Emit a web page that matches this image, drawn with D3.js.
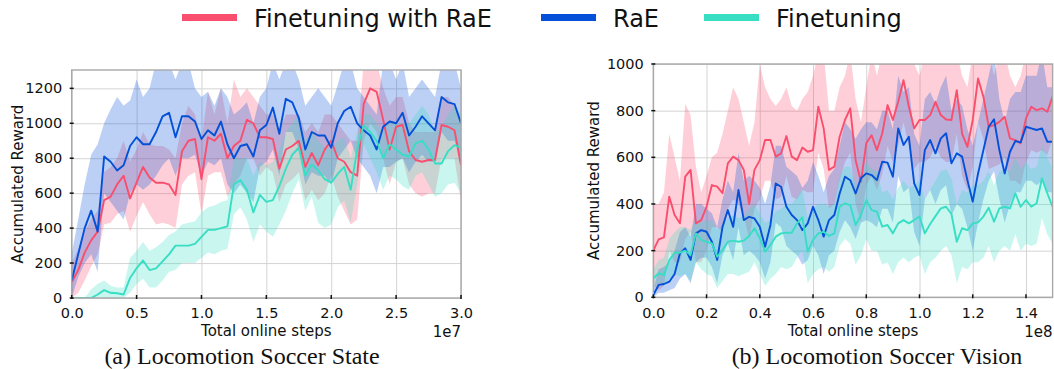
<!DOCTYPE html>
<html><head><meta charset="utf-8">
<script src="https://cdn.jsdelivr.net/npm/d3@7"></script>
<style>body{margin:0;background:#fff}svg{display:block}</style>
</head><body>
<svg id="c" width="1054" height="369"></svg>
<script>
// ---------- DATA ----------
const seriesNames = ["Finetuning with RaE", "RaE", "Finetuning"];
const seriesColors = ["#FA4E6E", "#0450D8", "#37DEC4"];

// (a) Locomotion Soccer State  -- steps in units of 1e6
const leftSteps = [0,0.5,1,1.5,2,2.5,3,3.5,4,4.5,5,5.5,6,6.5,7,7.5,8,8.5,9,9.5,10,10.5,11,11.5,12,12.5,13,13.5,14,14.5,15,15.5,16,16.5,17,17.5,18,18.5,19,19.5,20,20.5,21,21.5,22,22.5,23,23.5,24,24.5,25,25.5,26,26.5,27,27.5,28,28.5,29,29.5,30];
const leftFtRaE = [90,160,260,330,380,560,580,650,700,570,660,750,690,660,660,650,590,840,900,910,680,920,900,940,800,870,900,1020,1000,920,920,910,740,850,870,900,750,830,760,850,900,800,780,720,700,1110,1200,1180,1020,850,980,990,840,790,780,790,790,990,980,960,760];
const leftFtRaEHi = [200,280,380,450,500,720,750,800,900,780,850,950,880,870,870,850,800,1000,1100,1050,900,1180,1050,1200,1000,1250,1150,1200,1150,1100,1050,1050,950,1050,1050,1050,950,1000,950,1050,1050,1000,950,900,900,1350,1350,1350,1200,1100,1150,1150,1000,950,950,950,950,1150,1150,1100,1000];
const leftFtRaELo = [0,30,100,180,250,420,430,480,500,380,470,550,480,420,430,420,400,650,700,720,480,700,720,720,580,650,700,800,800,700,750,720,550,650,680,720,560,620,560,600,700,580,500,420,450,900,1000,950,800,650,780,800,650,600,580,600,600,800,800,800,550];
const leftRaE = [100,250,400,500,380,810,780,730,760,870,920,880,880,950,1040,1060,920,1040,1040,1010,910,960,930,1010,880,800,870,880,810,960,990,1090,940,1140,1120,1030,850,950,930,930,860,1000,1070,1095,1000,960,930,850,980,1010,1000,1060,930,980,1040,1000,960,1150,1120,1110,1000];
const leftRaEHi = [250,450,650,820,880,1000,1080,1150,1100,1130,1250,1150,1200,1350,1350,1350,1250,1350,1350,1200,1150,1180,1100,1200,1150,1050,1080,1120,1000,1150,1200,1350,1250,1350,1350,1250,1100,1150,1200,1150,1100,1220,1350,1350,1200,1150,1100,1050,1350,1350,1250,1350,1150,1200,1250,1200,1150,1350,1350,1350,1200];
const leftRaELo = [0,120,200,250,150,600,550,500,450,600,650,620,650,700,760,800,700,800,800,820,700,780,760,800,650,600,650,600,550,750,780,850,700,950,950,850,650,720,700,700,650,800,850,900,800,750,700,600,750,750,780,800,720,780,820,780,780,950,900,900,800];
const leftFt = [0,0,0,0,20,45,30,27,20,115,170,215,160,170,210,250,300,300,300,310,350,390,390,400,410,650,675,620,490,590,550,560,640,740,820,860,700,765,730,680,660,710,750,620,850,990,950,900,800,880,850,820,810,885,900,850,770,770,840,875,860];
const leftFtHi = [0,0,0,50,80,100,70,60,60,230,270,320,270,290,320,360,380,420,430,440,490,520,530,550,560,800,800,800,700,780,760,780,850,950,1000,1050,900,950,900,860,850,900,920,800,950,1050,1050,1000,950,1020,1000,1000,1000,1050,1100,1050,950,980,1050,1100,1050];
const leftFtLo = [0,0,0,0,0,0,0,0,0,30,80,110,60,60,100,150,160,200,200,200,230,260,250,270,280,480,520,450,320,420,380,350,420,500,600,680,500,580,430,400,420,520,560,430,650,880,800,720,620,700,680,640,620,700,720,650,580,600,650,660,600];
const leftXTicks = [0, 5, 10, 15, 20, 25, 30];        // 1e6 units
const leftYTicks = [0, 200, 400, 600, 800, 1000, 1200];

// (b) Locomotion Soccer Vision -- steps in units of 1e6
const rightSteps = [0,2,4,6,8,10,12,14,16,18,20,22,24,26,28,30,32,34,36,38,40,42,44,46,48,50,52,54,56,58,60,62,64,66,68,70,72,74,76,78,80,82,84,86,88,90,92,94,96,98,100,102,104,106,108,110,112,114,116,118,120,122,124,126,128,130,132,134,136,138,140,142,144,146,148,150];
const rightFtRaE = [200,248,257,431,353,317,517,546,317,331,388,481,474,446,574,603,588,546,400,546,588,674,674,603,617,691,603,588,642,624,631,817,724,546,560,688,760,810,588,495,660,695,631,702,824,760,838,931,817,724,760,760,781,838,781,762,760,888,702,645,760,938,860,731,738,752,774,681,674,660,767,817,802,810,795,860];
const rightFtRaEHi = [400,400,450,700,600,500,830,780,560,450,520,600,620,700,800,900,850,750,650,750,1000,900,850,820,850,900,820,800,850,880,950,1050,1050,800,800,900,950,1050,850,750,900,1050,950,1050,1050,1000,1050,1050,1050,1000,950,1050,1050,1050,1000,1050,1050,1050,950,900,1050,1050,1050,1050,950,1050,1050,950,900,950,1050,1050,1050,1050,1050,1050];
const rightFtRaELo = [50,30,50,200,150,150,250,280,150,150,200,300,300,280,380,420,400,350,250,380,420,500,500,420,430,520,430,420,460,450,450,620,550,380,400,500,580,620,400,320,480,520,460,530,650,580,650,750,650,550,580,580,600,650,600,580,580,700,520,460,560,750,680,550,560,570,600,500,500,480,580,630,620,630,610,680];
const rightRaE = [10,53,57,67,100,188,210,160,274,288,281,238,160,302,374,302,460,331,345,338,302,217,310,488,474,388,353,331,288,317,388,331,260,331,353,445,517,502,445,510,531,524,502,581,577,517,724,653,688,488,438,631,674,617,681,703,574,617,603,502,410,531,631,731,763,631,531,624,670,664,731,724,717,724,667,667];
const rightRaEHi = [30,120,130,150,200,280,300,260,400,400,380,360,300,420,500,450,620,500,520,500,470,400,480,650,650,560,540,520,470,500,580,520,450,520,550,650,750,720,680,720,750,750,720,800,800,720,950,880,900,700,650,850,880,830,900,950,800,850,820,720,650,750,850,950,1050,850,750,850,880,880,950,950,950,1050,900,900];
const rightRaELo = [0,20,20,30,40,80,100,60,150,170,170,130,60,180,230,160,300,180,200,180,150,80,150,320,300,220,200,180,140,160,220,180,100,180,200,280,330,300,250,320,330,320,300,380,380,320,520,450,470,280,220,420,460,400,460,480,350,400,380,300,200,320,420,500,540,420,320,400,450,450,500,500,480,500,450,450];
const rightFt = [80,103,95,160,191,191,200,181,274,246,238,231,174,203,238,243,238,243,263,296,253,196,224,260,274,277,277,317,343,196,246,274,281,263,274,388,403,395,310,353,417,374,367,303,310,274,317,331,317,331,346,274,314,348,381,388,357,238,296,288,317,321,346,384,324,381,388,381,446,388,417,388,403,510,446,388];
const rightFtHi = [120,160,170,250,280,300,300,290,330,320,330,330,290,310,340,350,340,350,380,400,360,320,330,370,380,400,400,430,460,340,380,400,400,390,400,520,560,560,480,520,580,550,540,450,460,420,470,500,470,480,500,420,460,500,540,550,510,400,460,450,480,480,500,540,480,540,550,540,600,550,580,550,560,650,600,550];
const rightFtLo = [40,60,50,80,100,90,100,70,150,120,100,90,40,70,100,100,90,100,110,150,100,50,80,100,130,120,130,170,200,60,100,120,130,110,130,220,250,230,140,180,250,200,200,140,150,100,150,170,150,170,180,100,150,170,200,220,180,60,130,120,150,150,170,220,150,200,220,200,270,200,230,220,230,340,270,230];
const rightXTicks = [0, 20, 40, 60, 80, 100, 120, 140];   // 1e6 units
const rightYTicks = [0, 200, 400, 600, 800, 1000];

// ---------- DRAW ----------
const svg = d3.select("#c");
const FONT = "DejaVu Sans, sans-serif";

function panel(cfg) {
  const g = svg.append("g");
  const x = d3.scaleLinear().domain(cfg.xDomain).range([cfg.left, cfg.right]);
  const y = d3.scaleLinear().domain(cfg.yDomain).range([cfg.bottom, cfg.top]);
  const clipId = "clip" + cfg.id;
  svg.append("clipPath").attr("id", clipId).append("rect")
    .attr("x", cfg.left).attr("y", cfg.top)
    .attr("width", cfg.right - cfg.left).attr("height", cfg.bottom - cfg.top);

  // grid
  g.append("g").attr("transform", `translate(0,${cfg.bottom})`)
    .call(d3.axisBottom(x).tickValues(cfg.xTicks).tickSize(-(cfg.bottom - cfg.top)).tickFormat(""))
    .call(a => a.select(".domain").remove())
    .call(a => a.selectAll("line").attr("stroke", "#d4d4d4").attr("stroke-width", 1));
  g.append("g").attr("transform", `translate(${cfg.left},0)`)
    .call(d3.axisLeft(y).tickValues(cfg.yTicks).tickSize(-(cfg.right - cfg.left)).tickFormat(""))
    .call(a => a.select(".domain").remove())
    .call(a => a.selectAll("line").attr("stroke", "#d4d4d4").attr("stroke-width", 1));

  const data = cfg.series;
  const plot = g.append("g").attr("clip-path", `url(#${clipId})`);
  // bands
  data.forEach((s, k) => {
    const area = d3.area()
      .x((d, i) => x(cfg.steps[i]))
      .y0((d, i) => y(s.lo[i]))
      .y1((d, i) => y(s.hi[i]));
    plot.append("path").datum(s.mean).attr("d", area)
      .attr("fill", seriesColors[k]).attr("fill-opacity", 0.27).attr("stroke", "none");
  });
  // lines
  data.forEach((s, k) => {
    const line = d3.line().x((d, i) => x(cfg.steps[i])).y(d => y(d));
    plot.append("path").datum(s.mean).attr("d", line)
      .attr("fill", "none").attr("stroke", seriesColors[k]).attr("stroke-width", 1.9)
      .attr("stroke-linejoin", "round");
  });

  // frame
  g.append("rect").attr("x", cfg.left).attr("y", cfg.top)
    .attr("width", cfg.right - cfg.left).attr("height", cfg.bottom - cfg.top)
    .attr("fill", "none").attr("stroke", "#a8a8a8").attr("stroke-width", 1.4);

  // axes labels
  const ax = g.append("g").attr("transform", `translate(0,${cfg.bottom})`)
    .call(d3.axisBottom(x).tickValues(cfg.xTicks).tickSize(0).tickPadding(10).tickFormat(cfg.xFmt));
  ax.select(".domain").remove();
  const ay = g.append("g").attr("transform", `translate(${cfg.left},0)`)
    .call(d3.axisLeft(y).tickValues(cfg.yTicks).tickSize(0).tickPadding(9.5).tickFormat(d3.format("d")));
  ay.select(".domain").remove();
  [ax, ay].forEach(a => a.selectAll("text").attr("font-family", FONT).attr("font-size", 14.5).attr("fill", "#111"));

  // small tick marks
  g.selectAll(null).data(cfg.xTicks).enter().append("line")
    .attr("x1", d => x(d)).attr("x2", d => x(d))
    .attr("y1", cfg.bottom - 3).attr("y2", cfg.bottom + 1)
    .attr("stroke", "#111").attr("stroke-width", 1.5);
  g.selectAll(null).data(cfg.yTicks).enter().append("line")
    .attr("y1", d => y(d)).attr("y2", d => y(d))
    .attr("x1", cfg.left - 2).attr("x2", cfg.left + 2)
    .attr("stroke", "#111").attr("stroke-width", 1.5);

  // titles
  g.append("text").attr("x", (cfg.left + cfg.right) / 2).attr("y", 336)
    .attr("text-anchor", "middle").attr("font-family", FONT).attr("font-size", 15).attr("fill", "#111")
    .text("Total online steps");
  g.append("text").attr("x", cfg.right).attr("y", 336.5)
    .attr("text-anchor", "end").attr("font-family", FONT).attr("font-size", 15).attr("fill", "#111")
    .text(cfg.offsetText);
  g.append("text")
    .attr("transform", `translate(${cfg.ylabX},${(cfg.top + cfg.bottom) / 2}) rotate(-90)`)
    .attr("text-anchor", "middle").attr("dominant-baseline", "central")
    .attr("font-family", FONT).attr("font-size", 15).attr("fill", "#111")
    .text("Accumulated Reward");
  g.append("text").attr("x", cfg.capX).attr("y", 364)
    .attr("text-anchor", "middle").attr("font-family", "Liberation Serif, Times New Roman, serif")
    .attr("font-size", 24).attr("fill", "#111").text(cfg.caption);
}

panel({
  id: "L", left: 71.7, right: 461, top: 70, bottom: 298,
  xDomain: [0, 30], yDomain: [0, 1305],
  xTicks: leftXTicks, yTicks: leftYTicks, xFmt: d => (d / 10).toFixed(1),
  steps: leftSteps, offsetText: "1e7", ylabX: 17.5, capX: 242,
  caption: "(a) Locomotion Soccer State",
  series: [
    {mean: leftFtRaE, hi: leftFtRaEHi, lo: leftFtRaELo},
    {mean: leftRaE, hi: leftRaEHi, lo: leftRaELo},
    {mean: leftFt, hi: leftFtHi, lo: leftFtLo}
  ]
});
panel({
  id: "R", left: 653.3, right: 1052.6, top: 64, bottom: 297.3,
  xDomain: [0, 150], yDomain: [0, 1000],
  xTicks: rightXTicks, yTicks: rightYTicks, xFmt: d => (d / 100).toFixed(1),
  steps: rightSteps, offsetText: "1e8", ylabX: 593.7, capX: 877,
  caption: "(b) Locomotion Soccer Vision",
  series: [
    {mean: rightFtRaE, hi: rightFtRaEHi, lo: rightFtRaELo},
    {mean: rightRaE, hi: rightRaEHi, lo: rightRaELo},
    {mean: rightFt, hi: rightFtHi, lo: rightFtLo}
  ]
});

// legend
const legX = [182, 541, 704];
const leg = svg.append("g");
seriesNames.forEach((n, k) => {
  leg.append("rect").attr("x", legX[k]).attr("y", 14).attr("width", 55).attr("height", 7)
    .attr("fill", seriesColors[k]);
  leg.append("text").attr("x", legX[k] + 72).attr("y", 26.5)
    .attr("font-family", FONT).attr("font-size", 24).attr("fill", "#111").text(n);
});
</script>
</body></html>
